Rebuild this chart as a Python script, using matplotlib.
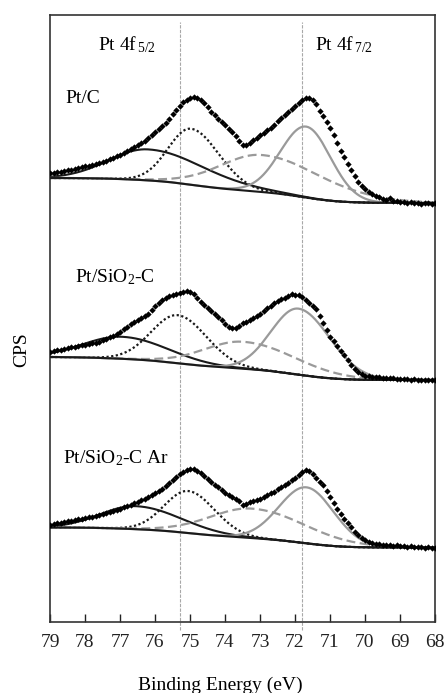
import numpy as np
import matplotlib

matplotlib.use("Agg")

import matplotlib.pyplot as plt

plt.rcParams["font.family"] = ["Liberation Serif", "DejaVu Serif"]
plt.rcParams["mathtext.fontset"] = "custom"
plt.rcParams["mathtext.rm"] = "Liberation Serif"
plt.rcParams["mathtext.it"] = "Liberation Serif:italic"

# binding energy of the measured points, 79.0 -> 68.0 eV in 0.1 eV steps
energy = np.round(np.arange(79.0, 67.95, -0.1), 1)

# measured counts (a.u.) above each spectrum's low-BE level
pt_c_counts = [
    30, 30.5, 31.5, 31, 32.5, 33, 33, 34.5, 35.5, 36,
    37, 37.5, 38.5, 39, 40.5, 41.5, 42.5, 44, 45.5, 47,
    48.5, 50.5, 52, 54, 56, 58, 60, 62.5, 65, 68,
    71, 74, 77, 80.5, 84.5, 89, 93, 97.5, 101, 103.5,
    105.5, 106, 105, 103.5, 100.5, 96, 91.5, 88, 84.5, 81,
    78, 74.5, 71, 67, 62.5, 58.5, 58.5, 60.5, 63, 65.5,
    68, 70.5, 73, 75.5, 78.5, 82, 85, 88, 91, 94,
    97, 100, 103, 105.5, 105, 103, 99, 92, 87, 81,
    75, 68, 60, 52.5, 46, 39, 33, 27, 21.5, 17,
    14, 11.5, 9, 7.5, 6, 4.5, 3.5, 5, 2.5, 2,
    1.5, 1, 0.5, 1, 0, 0.5, -0.5, 0.5, 0, -0.5,
    0,
]
pt_sio2_c_counts = [
    28, 29, 30, 30.5, 31, 32, 33, 33.5, 34.5, 35,
    35.5, 36.5, 37, 37.5, 38.5, 40, 41.5, 43, 44.5, 46,
    48.5, 51, 53.5, 56, 58.5, 60.5, 62.5, 64.5, 66.5, 70,
    74, 77.5, 80, 82, 84, 85.5, 86.5, 87.5, 88, 89,
    88.5, 86, 82, 78, 75, 72, 69.5, 66.5, 63, 60,
    56.5, 53.5, 52.5, 52.5, 54.5, 57, 58.5, 60, 62, 64.5,
    66.5, 69.5, 72, 74.5, 77, 79, 81, 82.5, 84.5, 86,
    85.5, 85, 83, 80.5, 77.5, 74, 71, 64, 57, 50,
    43.5, 39, 34.5, 29.5, 25, 20, 15.5, 11.5, 8.5, 6,
    4.5, 4, 3.5, 3, 3, 2.5, 2.5, 2, 2.5, 1.5,
    1.5, 1, 1.5, 0.5, 1, 0.5, 0, 0.5, 0, 0.5,
    0,
]
pt_sio2_c_ar_counts = [
    23, 23.5, 24.5, 25, 25.5, 26.5, 27, 27.5, 28.5, 29,
    29.5, 30.5, 31, 31.5, 32.5, 33.5, 34.5, 35.5, 37, 38,
    39, 40.5, 41.5, 43, 44.5, 46, 47.5, 49, 51, 53,
    55, 57, 59, 61.5, 64.5, 68, 71, 73.5, 75.5, 77.5,
    78.5, 78.5, 77, 74.5, 72, 69, 66, 63, 60.5, 57.5,
    55, 53, 51, 49, 46.5, 43, 43.5, 45.5, 46.5, 48,
    49, 51, 52.5, 54.5, 56, 58.5, 60.5, 63, 65, 67.5,
    70, 73, 75.5, 77.5, 77, 73.5, 69.5, 66, 62.5, 57,
    51, 45, 38.5, 33.5, 28.5, 24.5, 20.5, 16, 13, 10,
    7.5, 6, 4.5, 4, 3.5, 3, 3, 2.5, 2, 2.5,
    1.5, 2, 1, 1.5, 0.5, 1, 0.5, 0, 0.5, 0,
    0,
]

sample_names = ["Pt/C", "Pt/SiO$_2$-C", "Pt/SiO$_2$-C Ar"]
spectra = [pt_c_counts, pt_sio2_c_counts, pt_sio2_c_ar_counts]
offsets = [419, 242, 74.5]
shirley_step = [25, 23, 20]

# fitted components per sample: Pt2+ 4f5/2, Pt0 4f5/2, Pt2+ 4f7/2, Pt0 4f7/2
peak_centers = [[76.2, 74.97, 72.95, 71.68],
                [76.95, 75.35, 73.5, 71.9],
                [76.55, 75.05, 73.25, 71.67]]
peak_heights = [[31, 56, 37, 71],
                [22, 48, 27, 66],
                [23, 42, 29.5, 56]]
sigma_high_be = [[1.1, 0.65, 1.2, 0.73],
                 [1.1, 0.75, 1.1, 0.78],
                 [1.0, 0.68, 1.2, 0.78]]
sigma_low_be = [[1.6, 0.8, 1.75, 0.7],
                [1.3, 0.83, 1.5, 0.9],
                [1.28, 0.76, 1.55, 0.78]]

peak_styles = [
    dict(color="#1a1a1a", lw=1.5, ls="-"),
    dict(color="#1a1a1a", lw=1.6, ls=(0, (1, 1.1))),
    dict(color="#9a9a9a", lw=1.6, ls=(0, (4, 2))),
    dict(color="#9a9a9a", lw=1.6, ls="-"),
]

ref_lines = [75.3, 71.8]


def peak(e, c, h, s_hi, s_lo):
    s = np.where(e > c, s_hi, s_lo)
    return h * np.exp(-0.5 * ((e - c) / s) ** 2)


fig = plt.figure(figsize=(4.46, 6.93), dpi=100)
ax = fig.add_axes([50 / 446, 1 - 622 / 693, 385 / 446, 607 / 693])

grid = np.linspace(68, 79, 441)
for i in range(3):
    comps = [peak(grid, c, h, a, b) for c, h, a, b in
             zip(peak_centers[i], peak_heights[i], sigma_high_be[i], sigma_low_be[i])]
    cum = np.cumsum(np.sum(comps, axis=0))
    bg = shirley_step[i] * cum / cum[-1]
    base = offsets[i] + bg
    for comp, style in zip(comps, peak_styles):
        ax.plot(grid, base + comp, zorder=2, **style)
    ax.plot(grid, base, color="#1a1a1a", lw=1.5, zorder=3)
    ax.plot(energy, offsets[i] + np.asarray(spectra[i]), ls="none", marker="D",
            ms=3.2, mec="none", color="#000000", zorder=5)

for x in ref_lines:
    ax.axvline(x, ymin=-0.013, ymax=0.988, clip_on=False, color="#a8a8a8",
               lw=0.8, ls=(0, (3, 1.2)), zorder=1)

label_pos = [(78.57, 519), (78.29, 340), (78.62, 159)]
for name, (x, y) in zip(sample_names, label_pos):
    ax.text(x, y, name, fontsize=14, va="baseline", ha="left")

ax.text(77.63, 572, "Pt 4f$_{\\,5/2}$", fontsize=14, va="baseline", ha="left")
ax.text(71.43, 572, "Pt 4f$_{\\,7/2}$", fontsize=14, va="baseline", ha="left")

ax.set_xlim(79, 68)
ax.set_ylim(0, 607)
ax.set_xticks(range(68, 80))
ax.set_yticks([])
ax.tick_params(axis="x", direction="in", length=5.5, width=1, pad=8.5,
               labelsize=14, colors="#222222")
for sp in ax.spines.values():
    sp.set_linewidth(1.2)
    sp.set_color("#333333")

fig.text(220 / 446, 1 - 690 / 693, "Binding Energy (eV)", fontsize=14,
         ha="center", va="baseline")
fig.text(22 / 446, 1 - 350 / 693, "CPS", fontsize=14, rotation=90,
         ha="center", va="center")

fig.savefig("out.png", dpi=100)
